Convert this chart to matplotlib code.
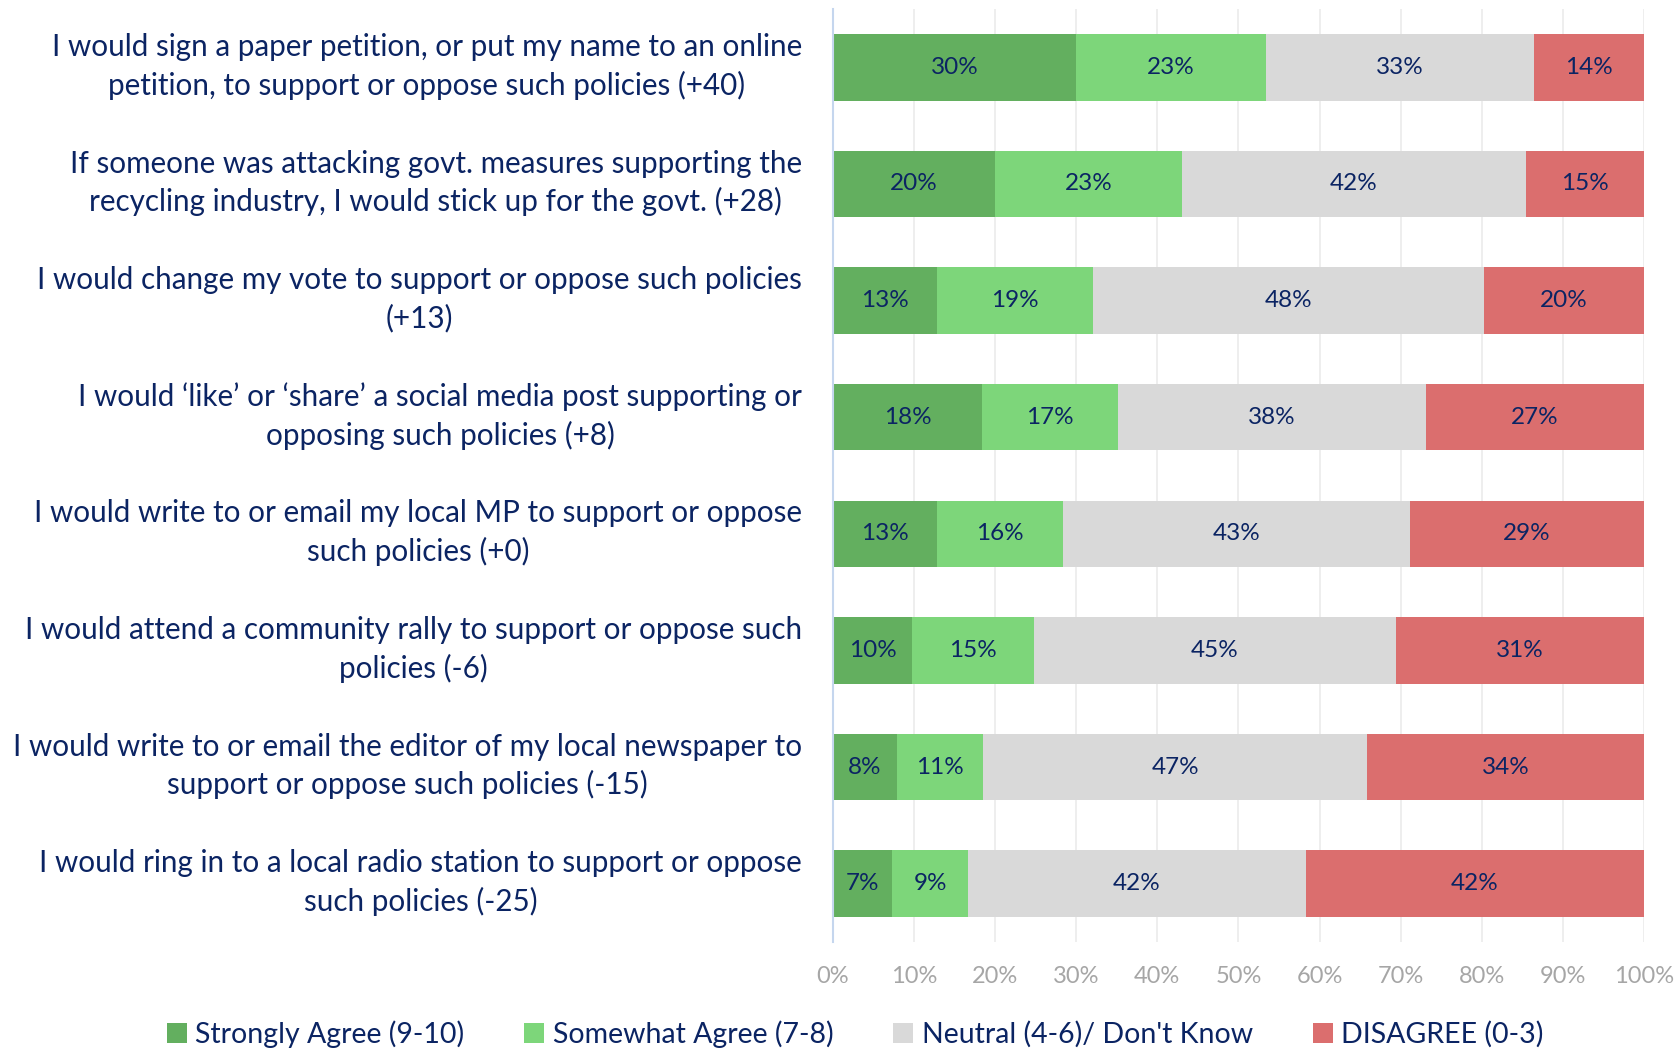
import matplotlib
matplotlib.use("Agg")
import matplotlib.pyplot as plt
import matplotlib.transforms as mtransforms
import numpy as np

plt.rcParams['font.family'] = ['Lato', 'DejaVu Sans']

# ====== Data ======
statements = [
    "I would sign a paper petition, or put my name to an online\npetition, to support or oppose such policies (+40)",
    "If someone was attacking govt. measures supporting the\nrecycling industry, I would stick up for the govt. (+28)",
    "I would change my vote to support or oppose such policies\n(+13)",
    "I would \u2018like\u2019 or \u2018share\u2019 a social media post supporting or\nopposing such policies (+8)",
    "I would write to or email my local MP to support or oppose\nsuch policies (+0)",
    "I would attend a community rally to support or oppose such\npolicies (-6)",
    "I would write to or email the editor of my local newspaper to\nsupport or oppose such policies (-15)",
    "I would ring in to a local radio station to support or oppose\nsuch policies (-25)",
]
strongly_agree = [30.0, 20.0, 12.8, 18.4, 12.8, 9.8, 7.9, 7.3]
somewhat_agree = [23.4, 23.0, 19.3, 16.8, 15.6, 15.0, 10.6, 9.4]
neutral = [33.0, 42.4, 48.2, 37.9, 42.7, 44.6, 47.4, 41.6]
disagree = [13.6, 14.6, 19.7, 26.9, 28.9, 30.6, 34.1, 41.7]

series_names = ["Strongly Agree (9-10)", "Somewhat Agree (7-8)",
                "Neutral (4-6)/ Don't Know", "DISAGREE (0-3)"]
colors = ["#63AF5F", "#7DD67A", "#D9D9D9", "#DB6E6E"]
text_col = "#0B2463"

# ====== Plot ======
fig = plt.figure(figsize=(16.77, 10.54), dpi=100)
ax = fig.add_axes([0.4967, 0.1063, 0.4836, 0.8852])

y = np.arange(len(statements))
left = np.zeros(len(statements))
for vals, name, col in zip([strongly_agree, somewhat_agree, neutral, disagree], series_names, colors):
    vals = np.array(vals)
    ax.barh(y, vals, left=left, height=0.57, color=col, label=name, zorder=2)
    for yi, l, v in zip(y, left, vals):
        ax.text(l + v / 2, yi, f"{v:.0f}%", ha="center", va="center",
                fontsize=17.5, color=text_col, zorder=3)
    left += vals

ax.set_xlim(0, 100)
ax.set_ylim(len(statements) - 0.5, -0.5)
ax.set_xticks(np.arange(0, 101, 10))
ax.set_xticklabels([f"{t}%" for t in range(0, 101, 10)], color="#A6A6A6", fontsize=17)
ax.set_yticks(y)
ax.set_yticklabels([])

# category labels, centred multi-line block right of the axis
lab_tr = mtransforms.blended_transform_factory(ax.transAxes, ax.transData) + \
    mtransforms.ScaledTranslation(-0.31, 0.01, fig.dpi_scale_trans)
for yi, s in zip(y, statements):
    ax.text(0, yi, s, ha="right", va="center", multialignment="center",
            linespacing=1.4, fontsize=21.3, color=text_col, transform=lab_tr)

ax.tick_params(axis="both", length=0)
ax.tick_params(axis="x", pad=17)
ax.grid(axis="x", color="#EBEBEB", linewidth=1.2, zorder=0)
ax.set_axisbelow(True)
for s in ["top", "right", "bottom"]:
    ax.spines[s].set_visible(False)
ax.spines["left"].set_color("#C5D6EE")
ax.spines["left"].set_linewidth(1.5)

leg = fig.legend(loc="center", bbox_to_anchor=(0.51, 0.019), ncol=4, frameon=False,
                 fontsize=20.5, handlelength=0.7, handleheight=0.7, handletextpad=0.3,
                 columnspacing=2.1)
for t in leg.get_texts():
    t.set_color(text_col)

fig.savefig("out.png", dpi=100)
